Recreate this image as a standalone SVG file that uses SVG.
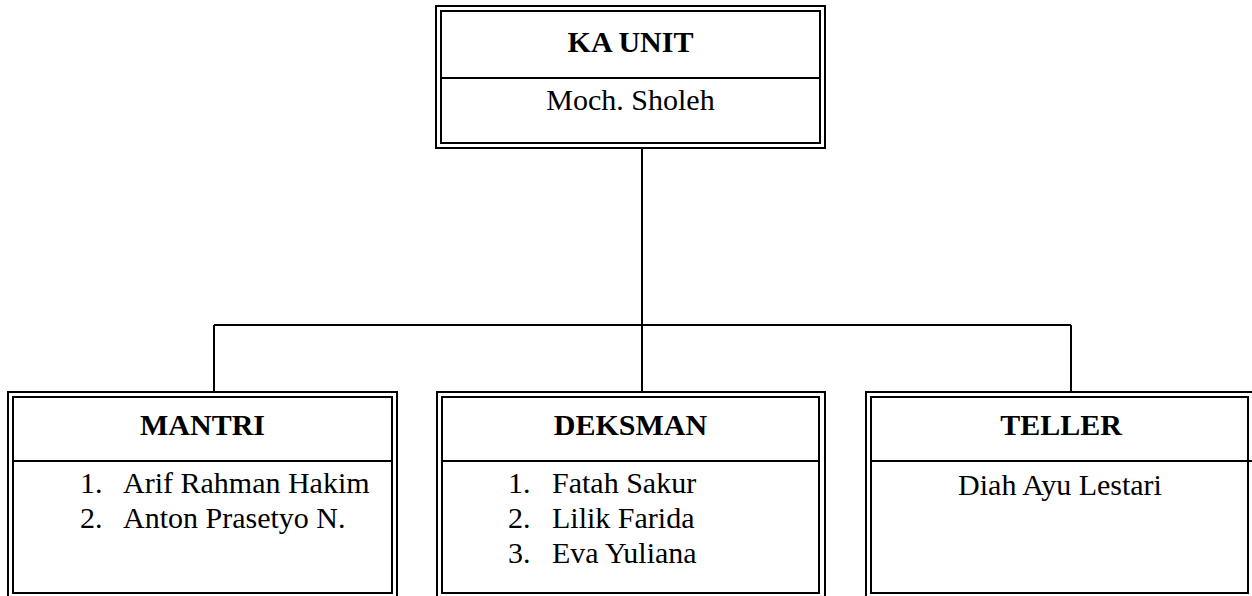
<svg xmlns="http://www.w3.org/2000/svg" width="1252" height="596" viewBox="0 0 1252 596">
  <style>
    .frame { fill: none; stroke: #000; stroke-width: 2; }
    .wire { fill: none; stroke: #000; stroke-width: 2; }
    .title { font-family: "Liberation Serif", "Times New Roman", serif; font-size: 30px; font-weight: bold; text-anchor: middle; fill: #000; }
    .name { font-family: "Liberation Serif", "Times New Roman", serif; font-size: 30px; fill: #000; }
    .mid { text-anchor: middle; }
  </style>
  <rect width="1252" height="596" fill="#fff"/>

  <!-- connectors -->
  <g id="connectors">
    <line class="wire" x1="642" y1="148" x2="642" y2="392"/>
    <line class="wire" x1="214" y1="325" x2="1071" y2="325"/>
    <line class="wire" x1="214" y1="325" x2="214" y2="392"/>
    <line class="wire" x1="1071" y1="325" x2="1071" y2="392"/>
  </g>

  <!-- head of unit -->
  <g id="ka-unit">
    <rect class="frame" x="436" y="6" width="389" height="142"/>
    <rect class="frame" x="441" y="11" width="379" height="132"/>
    <line class="frame" x1="441" y1="78" x2="820" y2="78"/>
    <text class="title" x="630.5" y="52">KA UNIT</text>
    <text class="name mid" x="630.5" y="110">Moch. Sholeh</text>
  </g>

  <!-- mantri -->
  <g id="mantri">
    <rect class="frame" x="8" y="392" width="389" height="210"/>
    <rect class="frame" x="13" y="397" width="379" height="196"/>
    <line class="frame" x1="13" y1="461" x2="392" y2="461"/>
    <text class="title" x="202.5" y="435">MANTRI</text>
    <text class="name" x="80" y="493">1.</text>
    <text class="name" x="123" y="493">Arif Rahman Hakim</text>
    <text class="name" x="80" y="528">2.</text>
    <text class="name" x="123" y="528">Anton Prasetyo N.</text>
  </g>

  <!-- deksman -->
  <g id="deksman">
    <rect class="frame" x="437" y="392" width="388" height="210"/>
    <rect class="frame" x="442" y="397" width="377" height="196"/>
    <line class="frame" x1="442" y1="461" x2="819" y2="461"/>
    <text class="title" x="630.5" y="435">DEKSMAN</text>
    <text class="name" x="508" y="493">1.</text>
    <text class="name" x="552" y="493">Fatah Sakur</text>
    <text class="name" x="508" y="528">2.</text>
    <text class="name" x="552" y="528">Lilik Farida</text>
    <text class="name" x="508" y="563">3.</text>
    <text class="name" x="552" y="563">Eva Yuliana</text>
  </g>

  <!-- teller -->
  <g id="teller">
    <rect class="frame" x="866" y="392" width="400" height="210"/>
    <rect class="frame" x="871" y="397" width="377" height="196"/>
    <line class="frame" x1="871" y1="461" x2="1252" y2="461"/>
    <text class="title" x="1061" y="435">TELLER</text>
    <text class="name mid" x="1060" y="495">Diah Ayu Lestari</text>
  </g>
</svg>
